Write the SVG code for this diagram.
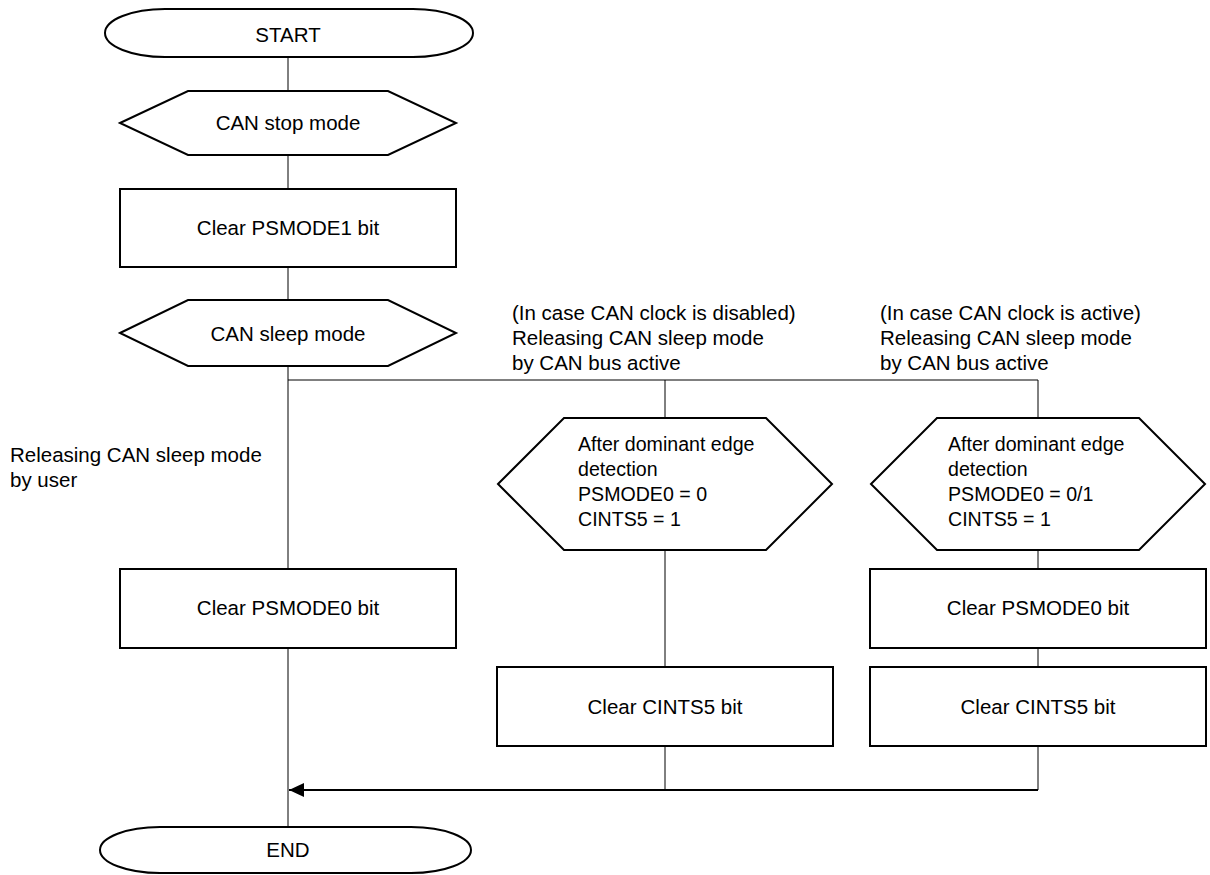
<svg xmlns="http://www.w3.org/2000/svg" width="1210" height="875" viewBox="0 0 1210 875">
<defs>
<style>
.sh{fill:#fff;stroke:#000;stroke-width:2}
.ln{fill:none;stroke:#000;stroke-width:1}
.ar{fill:none;stroke:#000;stroke-width:2}
text{font-family:"Liberation Sans",Arial,sans-serif;font-size:20.5px;fill:#000}
.c{text-anchor:middle}
.h{font-size:19.6px}
</style>
<marker id="ah" markerWidth="16" markerHeight="14" refX="15" refY="7" orient="auto" markerUnits="userSpaceOnUse">
<path d="M0,0 L15,7 L0,14 Z" fill="#000"/>
</marker>
</defs>
<rect width="1210" height="875" fill="#fff"/>
<g id="connectors">
<line class="ln" x1="288" y1="57" x2="288" y2="91"/>
<line class="ln" x1="288" y1="155" x2="288" y2="189"/>
<line class="ln" x1="288" y1="267" x2="288" y2="300"/>
<line class="ln" x1="288" y1="366" x2="288" y2="569"/>
<line class="ln" x1="288" y1="648" x2="288" y2="827"/>
<line class="ln" x1="288" y1="380" x2="1038" y2="380"/>
<line class="ln" x1="665" y1="380" x2="665" y2="418"/>
<line class="ln" x1="1038" y1="380" x2="1038" y2="418"/>
<line class="ln" x1="665" y1="550" x2="665" y2="667"/>
<line class="ln" x1="1038" y1="550" x2="1038" y2="569"/>
<line class="ln" x1="1038" y1="648" x2="1038" y2="667"/>
<line class="ln" x1="665" y1="746" x2="665" y2="790"/>
<line class="ln" x1="1038" y1="746" x2="1038" y2="790"/>
<line class="ar" x1="1038" y1="790" x2="289" y2="790" marker-end="url(#ah)"/>
</g>
<g id="start">
<path class="sh" d="M165,9 H413 A60,24 0 0 1 413,57 H165 A60,24 0 0 1 165,9 Z"/>
<text class="c" x="288" y="42">START</text>
</g>
<g id="can-stop">
<polygon class="sh" points="120,123 188,91 388,91 456,123 388,155 188,155"/>
<text class="c" x="288" y="130">CAN stop mode</text>
</g>
<g id="clear-psmode1">
<rect class="sh" x="120" y="189" width="336" height="78"/>
<text class="c" x="288" y="235">Clear PSMODE1 bit</text>
</g>
<g id="can-sleep">
<polygon class="sh" points="120,333 188,300 388,300 456,333 388,366 188,366"/>
<text class="c" x="288" y="341">CAN sleep mode</text>
</g>
<g id="label-user">
<text x="10" y="462">Releasing CAN sleep mode</text>
<text x="10" y="487">by user</text>
</g>
<g id="label-disabled">
<text x="512" y="320">(In case CAN clock is disabled)</text>
<text x="512" y="345">Releasing CAN sleep mode</text>
<text x="512" y="370">by CAN bus active</text>
</g>
<g id="label-active">
<text x="880" y="320">(In case CAN clock is active)</text>
<text x="880" y="345">Releasing CAN sleep mode</text>
<text x="880" y="370">by CAN bus active</text>
</g>
<g id="clear-psmode0-left">
<rect class="sh" x="120" y="569" width="336" height="79"/>
<text class="c" x="288" y="615">Clear PSMODE0 bit</text>
</g>
<g id="hex-mid">
<polygon class="sh" points="498,484 564,418 766,418 832,484 766,550 564,550"/>
<text class="h" x="578" y="451">After dominant edge</text>
<text class="h" x="578" y="476">detection</text>
<text class="h" x="578" y="501">PSMODE0 = 0</text>
<text class="h" x="578" y="526">CINTS5 = 1</text>
</g>
<g id="hex-right">
<polygon class="sh" points="871,484 937,418 1139,418 1205,484 1139,550 937,550"/>
<text class="h" x="948" y="451">After dominant edge</text>
<text class="h" x="948" y="476">detection</text>
<text class="h" x="948" y="501">PSMODE0 = 0/1</text>
<text class="h" x="948" y="526">CINTS5 = 1</text>
</g>
<g id="clear-psmode0-right">
<rect class="sh" x="870" y="569" width="336" height="79"/>
<text class="c" x="1038" y="615">Clear PSMODE0 bit</text>
</g>
<g id="clear-cints5-mid">
<rect class="sh" x="497" y="667" width="336" height="79"/>
<text class="c" x="665" y="714">Clear CINTS5 bit</text>
</g>
<g id="clear-cints5-right">
<rect class="sh" x="870" y="667" width="336" height="79"/>
<text class="c" x="1038" y="714">Clear CINTS5 bit</text>
</g>
<g id="end">
<path class="sh" d="M160,827 H411 A60,23 0 0 1 411,873 H160 A60,23 0 0 1 160,827 Z"/>
<text class="c" x="288" y="857">END</text>
</g>
</svg>
